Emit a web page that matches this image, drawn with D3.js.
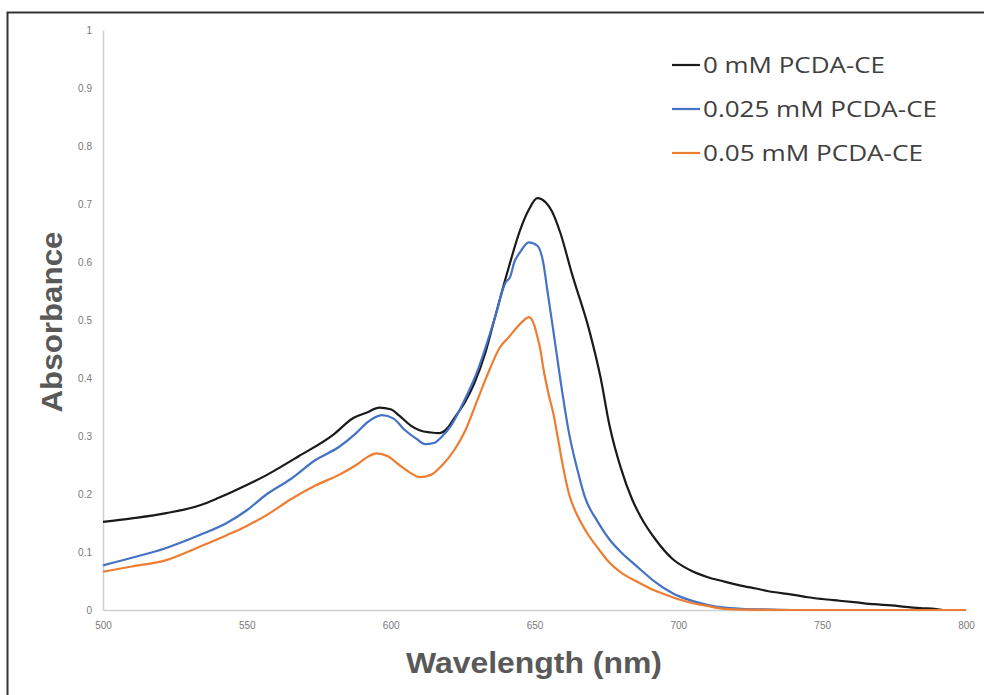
<!DOCTYPE html>
<html>
<head>
<meta charset="utf-8">
<script src="https://cdn.jsdelivr.net/npm/d3@7"></script>
<style>
  html, body { margin: 0; padding: 0; background: #fff; }
  svg { display: block; }
</style>
</head>
<body>
<svg id="chart" width="984" height="695"></svg>
<script>
// ---------- data ----------
const seriesNames = ["0 mM PCDA-CE", "0.025 mM PCDA-CE", "0.05 mM PCDA-CE"];
const seriesColors = ["#1a1a1a", "#4472c4", "#ed7d31"];

const wl0 = [500,510,522,534,540,545,557,568,580,587,592,596,600,603,607,610,614,617,620,622,626,629,633,636,641,645,648,651,654,656,659,663,669,673,676,680,684,687,692,698,704,710,716,721,727,733,739,745,750,756,762,768,774,780,785,789,792];
const abs0 = [0.152,0.158,0.167,0.181,0.193,0.204,0.233,0.265,0.302,0.331,0.341,0.349,0.346,0.335,0.318,0.310,0.306,0.305,0.315,0.330,0.360,0.390,0.445,0.500,0.590,0.655,0.690,0.710,0.702,0.688,0.650,0.580,0.483,0.400,0.320,0.245,0.190,0.160,0.122,0.088,0.069,0.057,0.049,0.043,0.037,0.031,0.027,0.022,0.019,0.016,0.013,0.010,0.008,0.005,0.003,0.002,0.000];

const wl1 = [500,510,522,534,543,550,557,565,574,582,588,592,597,601,605,609,612,615,618,621,625,630,636,640,641.5,643,645,648,651,653,654.5,656.5,659,662,665,667.5,672,676,680,684,687,692,698,704,710,716,722,730,740,760,780,800];
const abs1 = [0.077,0.090,0.107,0.130,0.150,0.172,0.200,0.225,0.259,0.281,0.305,0.324,0.336,0.330,0.310,0.295,0.286,0.288,0.300,0.318,0.355,0.410,0.500,0.565,0.574,0.600,0.617,0.634,0.628,0.600,0.550,0.483,0.397,0.305,0.240,0.195,0.152,0.122,0.100,0.082,0.069,0.048,0.029,0.017,0.009,0.004,0.002,0.001,0.000,0.000,0.000,0.000];

const wl2 = [500,510,522,534,543,550,557,565,574,582,588,592,595,599,603,607,610,614,618,622,626,630,634,638,641,644,646,648,650,651,652,653,655,656.5,658,660,662,665,668,672,676,680,686,692,698,704,710,716,724,740,760,780,800];
const abs2 = [0.066,0.075,0.086,0.110,0.129,0.145,0.164,0.190,0.215,0.233,0.250,0.264,0.270,0.265,0.250,0.236,0.229,0.233,0.250,0.275,0.310,0.360,0.410,0.453,0.470,0.488,0.498,0.505,0.490,0.471,0.450,0.419,0.370,0.340,0.300,0.245,0.200,0.162,0.135,0.107,0.082,0.065,0.048,0.033,0.022,0.013,0.007,0.002,0.0005,0.000,0.000,0.000,0.000];

const xTicks = [500,550,600,650,700,750,800];
const yTicks = [0,0.1,0.2,0.3,0.4,0.5,0.6,0.7,0.8,0.9,1];

const series = [
  { name: seriesNames[0], color: seriesColors[0], x: wl0, y: abs0 },
  { name: seriesNames[1], color: seriesColors[1], x: wl1, y: abs1 },
  { name: seriesNames[2], color: seriesColors[2], x: wl2, y: abs2 }
];

// ---------- drawing ----------
const svg = d3.select("#chart");

// outer frame (top and left edges visible)
svg.append("path")
  .attr("d", "M7.5,695 L7.5,12.5 L984,12.5")
  .attr("fill", "none").attr("stroke", "#333").attr("stroke-width", 2);

const x = d3.scaleLinear().domain([500, 800]).range([103, 966]);
const y = d3.scaleLinear().domain([0, 1]).range([610, 30]);

// axes
const xAxis = d3.axisBottom(x).tickValues(xTicks).tickSize(0).tickPadding(12).tickFormat(d3.format("d"));
const yAxis = d3.axisLeft(y).tickValues(yTicks).tickSize(0).tickPadding(11).tickFormat(d => d === 0 || d === 1 ? String(d) : d3.format(".1f")(d));

const gx = svg.append("g").attr("transform", "translate(0,610)").call(xAxis);
const gy = svg.append("g").attr("transform", "translate(103,0)").call(yAxis);

[gx, gy].forEach(g => {
  g.select(".domain").attr("stroke", "#d0d0d0").attr("stroke-width", 1.5);
  g.selectAll("text")
    .attr("fill", "#7a7a7a")
    .style("font-family", "'Liberation Sans Narrow', 'Liberation Sans', sans-serif")
    .style("font-size", "10px");
});

// lines
const line = d3.line().curve(d3.curveMonotoneX);
series.forEach(s => {
  const pts = s.x.map((v, i) => [x(v), y(s.y[i])]);
  svg.append("path")
    .attr("d", line(pts))
    .attr("fill", "none")
    .attr("stroke", s.color)
    .attr("stroke-width", 2.2)
    .attr("stroke-linejoin", "round");
});

// axis titles
svg.append("text")
  .attr("x", 534).attr("y", 673)
  .attr("text-anchor", "middle")
  .attr("fill", "#595959")
  .style("font-family", "'Liberation Sans', Arial, sans-serif")
  .style("font-weight", "bold")
  .style("font-size", "30px")
  .attr("textLength", 256).attr("lengthAdjust", "spacingAndGlyphs")
  .text("Wavelength (nm)");

svg.append("text")
  .attr("transform", "translate(62,322) rotate(-90)")
  .attr("text-anchor", "middle")
  .attr("fill", "#595959")
  .style("font-family", "'Liberation Sans', Arial, sans-serif")
  .style("font-weight", "bold")
  .style("font-size", "30px")
  .attr("textLength", 181).attr("lengthAdjust", "spacingAndGlyphs")
  .text("Absorbance");

// legend
const legendWidths = [182, 234, 220];
const legendY = [65, 109, 153];
const lg = svg.append("g");
series.forEach((s, i) => {
  lg.append("line")
    .attr("x1", 672).attr("x2", 700)
    .attr("y1", legendY[i]).attr("y2", legendY[i])
    .attr("stroke", s.color).attr("stroke-width", 2.2);
  lg.append("text")
    .attr("x", 703).attr("y", legendY[i] + 8)
    .attr("fill", "#404040")
    .style("font-family", "'Open Sans', 'Liberation Sans', sans-serif")
    .style("font-size", "21px")
    .attr("textLength", legendWidths[i]).attr("lengthAdjust", "spacingAndGlyphs")
    .text(s.name);
});
</script>
</body>
</html>
